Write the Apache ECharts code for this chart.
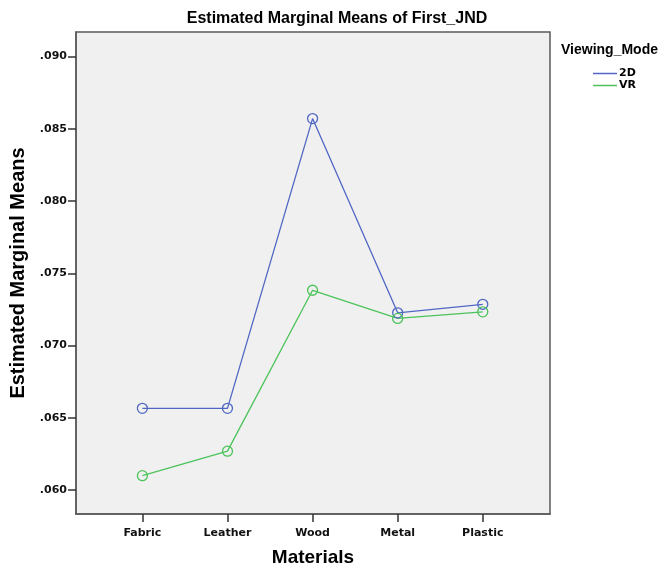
<!DOCTYPE html>
<html>
<head>
<meta charset="utf-8">
<script src="https://cdn.jsdelivr.net/npm/echarts@6/dist/echarts.min.js"></script>
<style>
html,body{margin:0;padding:0;background:#fff;}
#chart{width:665px;height:572px;}
</style>
</head>
<body>
<div id="chart"></div>
<script>
const categories = ['Fabric', 'Leather', 'Wood', 'Metal', 'Plastic'];
const seriesNames = ['2D', 'VR'];
const values2D = [0.06566, 0.06566, 0.08571, 0.07227, 0.07286];
const valuesVR = [0.06100, 0.06270, 0.07383, 0.07188, 0.07234];
const yTickValues = [0.060, 0.065, 0.070, 0.075, 0.080, 0.085, 0.090];
const yTickLabels = ['.060', '.065', '.070', '.075', '.080', '.085', '.090'];
const xTickValues = [0, 1, 2, 3, 4];

const chart = echarts.init(document.getElementById('chart'));
const font = 'Liberation Sans, Arial, Helvetica, sans-serif';
const wideFont = 'DejaVu Sans, Liberation Sans, sans-serif';
const colors = ['#5067c4', '#4cc35b'];

function toPairs(arr) { return arr.map((v, i) => [i, v]); }

const option = {
  backgroundColor: '#ffffff',
  animation: false,
  textStyle: { fontFamily: font },
  title: [
    { text: 'Estimated Marginal Means of First_JND', left: 332, top: 6, textAlign: 'center',
      textStyle: { fontFamily: font, fontSize: 16, fontWeight: 'bold', color: '#000' } },
    { text: 'Viewing_Mode', left: 556, top: 38,
      textStyle: { fontFamily: font, fontSize: 14, fontWeight: 'bold', color: '#000' } }
  ],
  legend: {
    data: seriesNames.map((n, i) => ({ name: n, itemStyle: { color: colors[i], borderWidth: 0 } })),
    orient: 'vertical',
    left: 588,
    top: 63,
    itemGap: 1,
    itemWidth: 24,
    itemHeight: 1.5,
    icon: 'rect',
    textStyle: { fontFamily: wideFont, fontSize: 11, fontWeight: 'bold', color: '#000', padding: [0, 0, 0, -3] }
  },
  grid: {
    left: 76, right: 115, top: 32, bottom: 56,
    show: true,
    backgroundColor: '#f0f0f0',
    borderColor: '#5a5a5a',
    borderWidth: 1.5
  },
  xAxis: {
    type: 'value',
    min: -0.78,
    max: 4.79,
    name: 'Materials',
    nameLocation: 'middle',
    nameGap: 34,
    nameTextStyle: { fontFamily: font, fontSize: 19, fontWeight: 'bold', color: '#000' },
    axisLine: { show: true, onZero: false, lineStyle: { color: '#5a5a5a', width: 1.5 } },
    splitLine: { show: false },
    axisTick: { show: true, customValues: xTickValues, length: 8, lineStyle: { color: '#333', width: 1.5 } },
    axisLabel: {
      customValues: xTickValues,
      formatter: v => categories[Math.round(v)],
      margin: 14,
      fontFamily: wideFont, fontSize: 11, fontWeight: 'bold', color: '#111'
    }
  },
  yAxis: {
    type: 'value',
    min: 0.05835,
    max: 0.09170,
    name: 'Estimated Marginal Means',
    nameLocation: 'middle',
    nameGap: 44,
    nameTextStyle: { fontFamily: font, fontSize: 20, fontWeight: 'bold', color: '#000' },
    axisLine: { show: true, onZero: false, lineStyle: { color: '#5a5a5a', width: 1.5 } },
    splitLine: { show: false },
    axisTick: { show: true, customValues: yTickValues, length: 8, lineStyle: { color: '#333', width: 1.5 } },
    axisLabel: {
      customValues: yTickValues,
      formatter: v => yTickLabels[yTickValues.findIndex(t => Math.abs(t - v) < 1e-6)],
      margin: 9,
      fontFamily: wideFont, fontSize: 11, fontWeight: 'bold', color: '#111'
    }
  },
  series: [
    {
      name: seriesNames[0], type: 'line', data: toPairs(values2D),
      symbol: 'circle', symbolSize: 10,
      itemStyle: { color: 'rgba(0,0,0,0)', borderColor: colors[0], borderWidth: 1.3 },
      lineStyle: { color: colors[0], width: 1.3 },
      color: colors[0]
    },
    {
      name: seriesNames[1], type: 'line', data: toPairs(valuesVR),
      symbol: 'circle', symbolSize: 10,
      itemStyle: { color: 'rgba(0,0,0,0)', borderColor: colors[1], borderWidth: 1.3 },
      lineStyle: { color: colors[1], width: 1.3 },
      color: colors[1]
    }
  ]
};
chart.setOption(option);
</script>
</body>
</html>
